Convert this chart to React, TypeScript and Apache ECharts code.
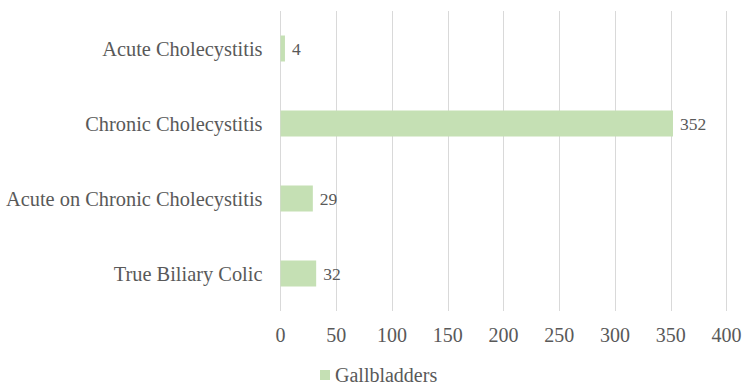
import React, { useEffect, useRef } from "react";
import * as echarts from "echarts";

const categories = [
  "True Biliary Colic",
  "Acute on Chronic Cholecystitis",
  "Chronic Cholecystitis",
  "Acute Cholecystitis",
];
const gallbladders = [32, 29, 352, 4];
const seriesName = "Gallbladders";

const FONT = "Liberation Serif";
const TEXT = "#595959";

export default function App() {
  const ref = useRef<HTMLDivElement>(null);
  useEffect(() => {
    if (!ref.current) return;
    const chart = echarts.init(ref.current, null, { renderer: "svg" });
    chart.setOption({
      animation: false,
      textStyle: { fontFamily: FONT, color: TEXT },
      grid: { left: 280.5, right: 23.5, top: 11, height: 300, containLabel: false },
      xAxis: {
        type: "value",
        min: 0,
        max: 400,
        interval: 50,
        axisLine: { show: false },
        axisTick: { show: false },
        axisLabel: { fontFamily: FONT, fontSize: 20, color: TEXT, margin: 14 },
        splitLine: { show: true, lineStyle: { color: "#D9D9D9", width: 1 } },
      },
      yAxis: {
        type: "category",
        data: categories,
        axisLine: { show: false },
        axisTick: { show: false },
        axisLabel: { fontFamily: FONT, fontSize: 20.4, color: TEXT, margin: 18 },
        splitLine: { show: false },
      },
      legend: {
        data: [seriesName],
        left: 315,
        top: 360,
        icon: "rect",
        itemWidth: 10,
        itemHeight: 10,
        itemGap: 10,
        textStyle: { fontFamily: FONT, fontSize: 20, color: TEXT },
      },
      series: [
        {
          name: seriesName,
          type: "bar",
          data: gallbladders,
          barWidth: 26,
          itemStyle: { color: "#C5E0B4" },
          label: {
            show: true,
            position: "right",
            distance: 7,
            fontFamily: FONT,
            fontSize: 17.5,
            color: TEXT,
          },
        },
      ],
    });
    return () => chart.dispose();
  }, []);
  return <div ref={ref} style={{ width: 750, height: 386, position: "absolute", left: 0, top: 0 }} />;
}
